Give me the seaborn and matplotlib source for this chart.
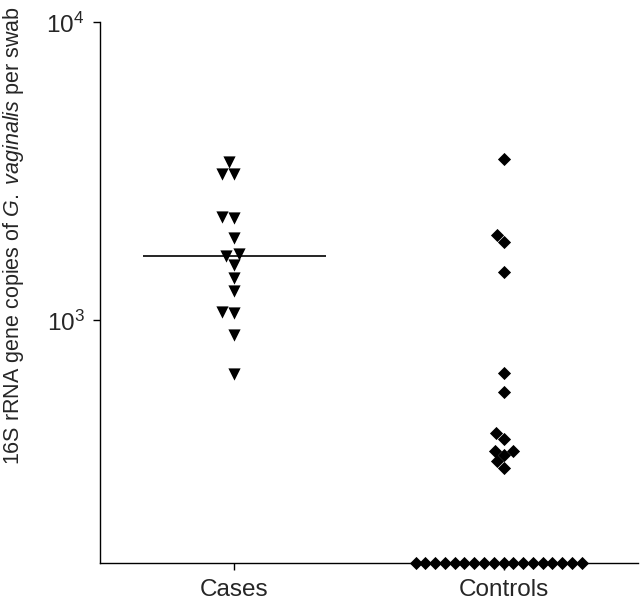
"""
G. vaginalis 16S rRNA copies per swab, cases vs controls
"""
import numpy as np
import matplotlib
matplotlib.use("Agg")
import matplotlib.pyplot as plt
import matplotlib.ticker as mticker
import seaborn as sns
import pandas as pd

groups = ["Cases", "Controls"]

# values (copies per swab)
cases = [3390, 3110, 3110, 2230, 2200, 1890, 1670, 1640, 1530, 1390, 1250, 1065, 1055, 890, 660]
controls_detected = [3470, 1930, 1830, 1450, 665, 575, 420, 400, 365, 363, 352, 336, 319]
n_below_limit = 18
y_floor = 153  # bottom of the axis, where undetectable samples sit

controls = controls_detected + [y_floor] * n_below_limit

df = pd.DataFrame({
    "group": ["Cases"] * len(cases) + ["Controls"] * len(controls),
    "copies": cases + controls,
})

sns.set_style("ticks")
plt.rcParams["font.family"] = ["Liberation Sans", "DejaVu Sans"]
plt.rcParams["mathtext.fontset"] = "custom"
plt.rcParams["mathtext.rm"] = "Liberation Sans"
plt.rcParams["mathtext.it"] = "Liberation Sans:italic"

fig = plt.figure(figsize=(6.4, 6.05), dpi=100)
ax = fig.add_axes([0.156, 0.069, 0.841, 0.894])
ax.set_yscale("log")

sns.swarmplot(data=df[df.group == "Cases"], x="group", y="copies", order=groups,
              marker="v", size=8.8, color="black", linewidth=0, ax=ax)
sns.swarmplot(data=df[df.group == "Controls"], x="group", y="copies", order=groups,
              marker="D", size=6.7, color="black", linewidth=0, ax=ax)
for coll in ax.collections:
    coll.set_clip_on(False)

# median line for cases
ax.hlines(np.median(cases), -0.34, 0.34, color="black", lw=1.2, zorder=1)

ax.set_xlim(-0.5, 1.5)
ax.set_ylim(y_floor, 1e4)
ax.yaxis.set_major_locator(mticker.FixedLocator([1e3, 1e4]))
ax.yaxis.set_minor_locator(mticker.NullLocator())
ax.yaxis.set_major_formatter(mticker.LogFormatterSciNotation())

ax.set_xlabel("")
ax.set_ylabel(r"16S rRNA gene copies of $\mathit{G.\ vaginalis}$ per swab", fontsize=15.5)
ax.yaxis.set_label_coords(-0.138, 0.606)
ax.tick_params(axis="both", labelsize=17.5, length=5, width=1, color="black", pad=6)
for side in ["top", "right"]:
    ax.spines[side].set_visible(False)
for side in ["left", "bottom"]:
    ax.spines[side].set_color("black")
    ax.spines[side].set_linewidth(1)

plt.savefig("out.png", dpi=100)
